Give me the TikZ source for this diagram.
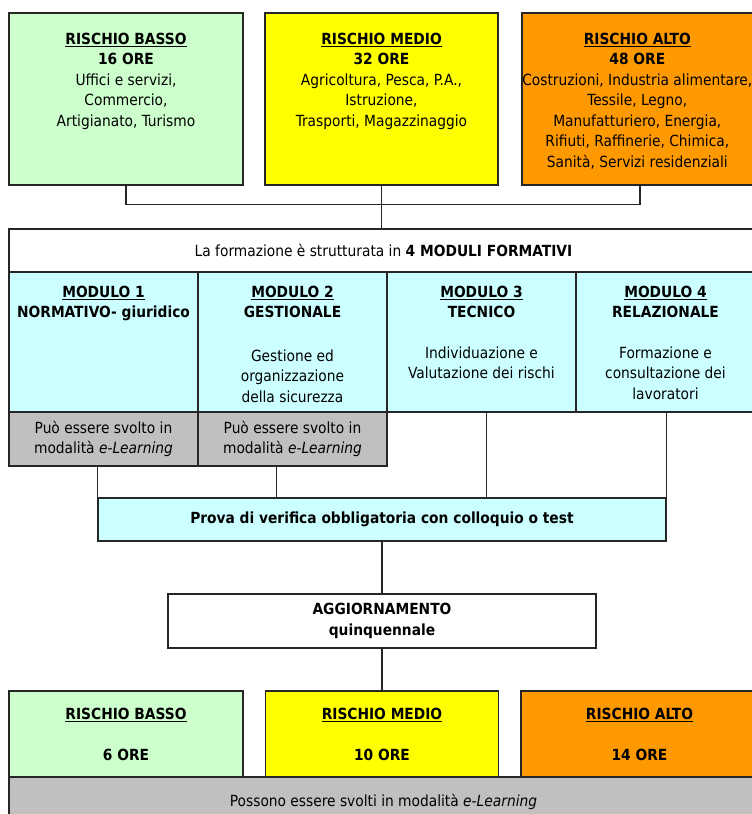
\documentclass[tikz,border=0pt]{standalone}
\usepackage{fontspec}
\setmainfont{DejaVu Sans Condensed}[BoldFont={DejaVu Sans Condensed Bold},ItalicFont={DejaVu Sans Condensed Oblique}]
\usetikzlibrary{positioning,calc}
\definecolor{verde}{HTML}{CCFFCC}
\definecolor{giallo}{HTML}{FFFF00}
\definecolor{arancio}{HTML}{FF9900}
\definecolor{celeste}{HTML}{CCFFFF}
\definecolor{grigio}{HTML}{C0C0C0}
\tikzset{
	box/.style={draw=black!85, line width=0.9pt, inner sep=0pt, align=center, font=\fontsize{11.5}{15.4}\selectfont},
	txt/.style={align=center, inner sep=0pt, font=\fontsize{11.5}{15.4}\selectfont},
	link/.style={draw=black!85, line width=0.9pt},
}
\newcommand{\tit}[1]{\underline{\textbf{#1}}}

\begin{document}
\begin{tikzpicture}[x=0.75pt,y=-0.75pt]
			\useasboundingbox (0,0) rectangle (752,814);
			
			% Rischi (corso base)
			\node[box, fill=verde, minimum width=175.5pt, minimum height=129pt] (basso) at (126,99) {};
			\node[box, fill=giallo, minimum width=174.75pt, minimum height=129pt] (medio) at (381.5,99) {};
			\node[box, fill=arancio, minimum width=177pt, minimum height=129pt] (alto) at (640,99) {};
			\node[txt, below=15pt of basso.north] (bassotxt)
				{\tit{RISCHIO BASSO}\\\textbf{16 ORE}\\Uffici e servizi,\\Commercio,\\Artigianato, Turismo};
			\node[txt, below=15pt of medio.north] (mediotxt)
				{\tit{RISCHIO MEDIO}\\\textbf{32 ORE}\\Agricoltura, Pesca, P.A.,\\Istruzione,\\Trasporti, Magazzinaggio};
			\node[txt, below=15pt of alto.north, xshift=-2pt] (altotxt)
				{\tit{RISCHIO ALTO}\\\textbf{48 ORE}\\Costruzioni, Industria alimentare,\\Tessile, Legno,\\Manufatturiero, Energia,\\Rifiuti, Raffinerie, Chimica,\\Sanit\`a, Servizi residenziali};
			
			% Moduli
			\node[box, minimum width=561.75pt, minimum height=32.25pt] (formazione) at (383.5,250.5)
				{La formazione \`e strutturata in \textbf{4 MODULI FORMATIVI}};
			\node[box, fill=celeste, minimum width=141.75pt, minimum height=105pt] (mod1) at (103.5,342) {};
			\node[box, fill=celeste, minimum width=141.75pt, minimum height=105pt] (mod2) at (292.5,342) {};
			\node[box, fill=celeste, minimum width=141.75pt, minimum height=105pt] (mod3) at (481.5,342) {};
			\node[box, fill=celeste, minimum width=134.25pt, minimum height=105pt] (mod4) at (665.5,342) {};
			\node[txt, below=10.5pt of mod1.north] (mod1txt)
				{\tit{MODULO 1}\\\textbf{NORMATIVO- giuridico}};
			\node[txt, below=10.5pt of mod2.north] (mod2txt)
				{\tit{MODULO 2}\\\textbf{GESTIONALE}\\[17.5pt]Gestione ed\\organizzazione\\della sicurezza};
			\node[txt, below=10.5pt of mod3.north] (mod3txt)
				{\tit{MODULO 3}\\\textbf{TECNICO}\\[15.2pt]Individuazione e\\Valutazione dei rischi};
			\node[txt, below=10.5pt of mod4.north] (mod4txt)
				{\tit{MODULO 4}\\\textbf{RELAZIONALE}\\[15.2pt]Formazione e\\consultazione dei\\lavoratori};
			
			% e-Learning
			\node[box, fill=grigio, minimum width=141.75pt, minimum height=40.5pt] (el1) at (103.5,439)
				{Pu\`o essere svolto in\\modalit\`a \textit{e-Learning}};
			\node[box, fill=grigio, minimum width=141.75pt, minimum height=40.5pt] (el2) at (292.5,439)
				{Pu\`o essere svolto in\\modalit\`a \textit{e-Learning}};
			
			% Verifica e aggiornamento
			\node[box, fill=celeste, minimum width=426pt, minimum height=32.25pt] (prova) at (382,519.5)
				{\textbf{Prova di verifica obbligatoria con colloquio o test}};
			\node[box, minimum width=321pt, minimum height=40.5pt] (agg) at (382,621)
				{\textbf{AGGIORNAMENTO}\\\textbf{quinquennale}};
			
			% Rischi (aggiornamento)
			\node[box, fill=verde, minimum width=175.5pt, minimum height=64.5pt] (basso2) at (126,734)
				{\tit{RISCHIO BASSO}\\[15.4pt]\textbf{6 ORE}};
			\node[box, fill=giallo, minimum width=174.75pt, minimum height=64.5pt] (medio2) at (382,734)
				{\tit{RISCHIO MEDIO}\\[15.4pt]\textbf{10 ORE}};
			\node[box, fill=arancio, minimum width=177.75pt, minimum height=64.5pt] (alto2) at (639.5,734)
				{\tit{RISCHIO ALTO}\\[15.4pt]\textbf{14 ORE}};
			\node[box, fill=grigio, minimum width=561.75pt, minimum height=37.5pt] (el3) at (383.5,802)
				{Possono essere svolti in modalit\`a \textit{e-Learning}};
			
			% Collegamenti
			\draw[link] (basso.south) -- ++(0,19) -| (alto.south);
			\draw[link] (medio.south) -- (medio.south |- formazione.north);
			\coordinate (p1) at ($(prova.north west)!0.315!(prova.north east)$);
			\coordinate (p2) at ($(prova.north west)!0.683!(prova.north east)$);
			\draw[link] (prova.north west) -- (prova.north west |- el1.south);
			\draw[link] (p1) -- (p1 |- el2.south);
			\draw[link] (p2) -- (p2 |- mod3.south);
			\draw[link] (prova.north east) -- (prova.north east |- mod4.south);
			\draw[link] (prova.south) -- (agg.north);
			\draw[link] (agg.south) -- (medio2.north);
		\end{tikzpicture}
\end{document}
